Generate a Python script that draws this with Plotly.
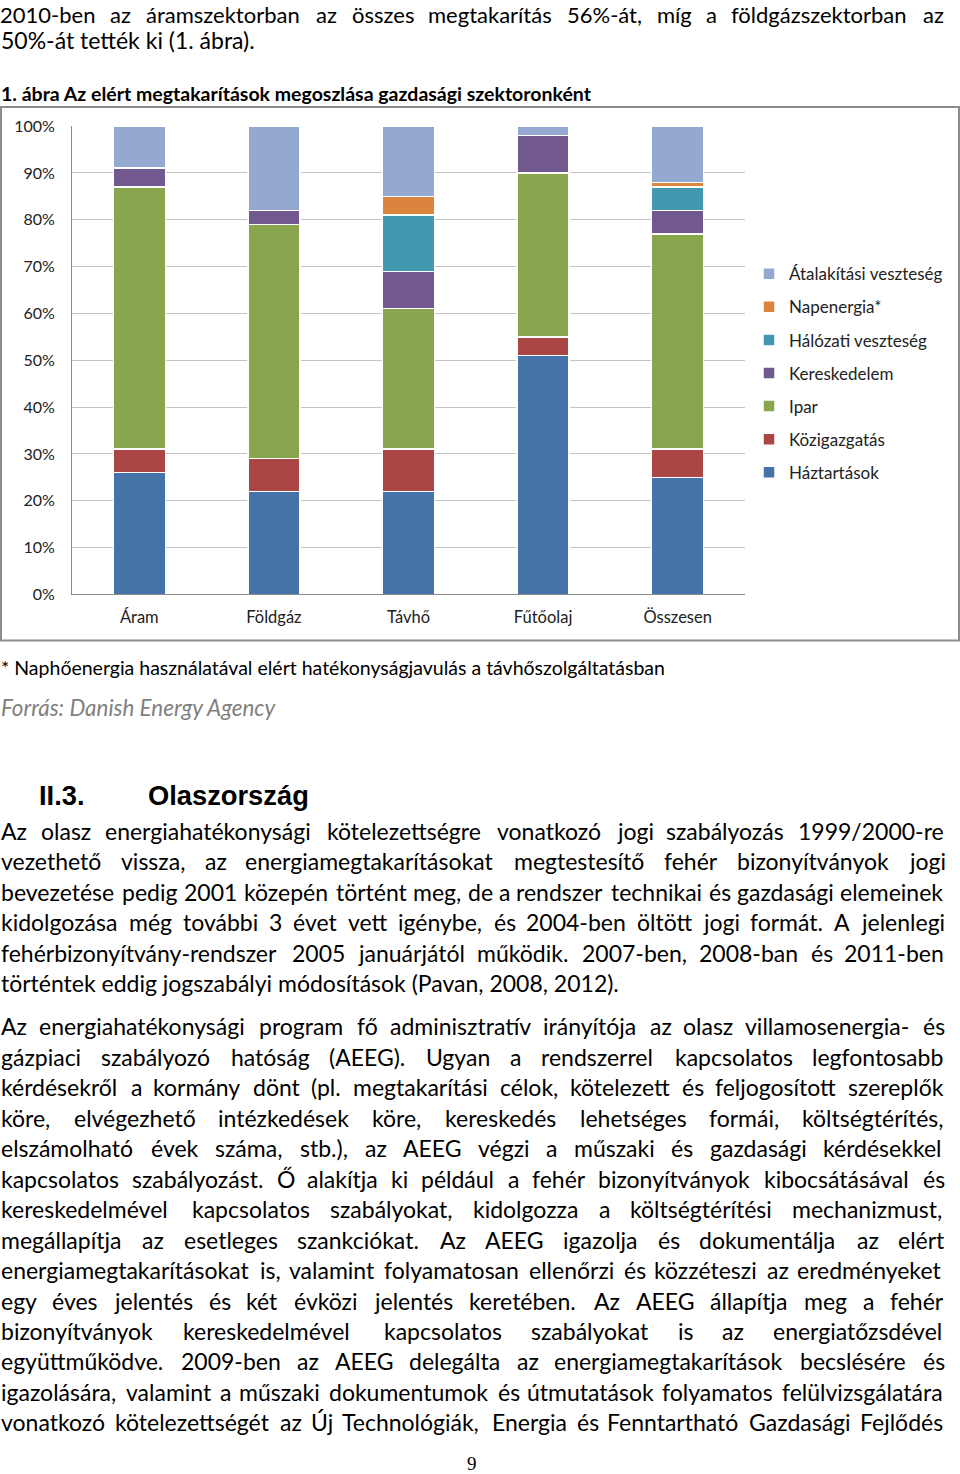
import plotly.graph_objects as go
import unicodedata

# ---------------- data ----------------
categories = ["Áram", "Földgáz", "Távhő", "Fűtőolaj", "Összesen"]
series_names = ["Háztartások", "Közigazgatás", "Ipar", "Kereskedelem",
                "Hálózati veszteség", "Napenergia*", "Átalakítási veszteség"]
haztartasok = [26, 22, 22, 51, 25]
kozigazgatas = [5, 7, 9, 4, 6]
ipar = [56, 50, 30, 35, 46]
kereskedelem = [4, 3, 8, 8, 5]
halozati = [0, 0, 12, 0, 5]
napenergia = [0, 0, 4, 0, 1]
atalakitasi = [9, 18, 15, 2, 12]
y_ticks = [0, 10, 20, 30, 40, 50, 60, 70, 80, 90, 100]
y_tick_labels = [f"{v}%" for v in y_ticks]

series_values = [haztartasok, kozigazgatas, ipar, kereskedelem,
                 halozati, napenergia, atalakitasi]
colors = ["#4572A7", "#AA4643", "#89A54E", "#71588F", "#4198AF", "#DB843D", "#93A9CF"]

W, H = 960, 1474
FONT = "Lato"
KY = 1474 / 1454.0  # vertical compensation


def px_x(x):
    return x / W


def px_y(y):
    yy = H / 2 + (y - H / 2) * KY
    return 1 - yy / H


fig = go.Figure()
n_series = len(series_names)
for i, (name, vals) in enumerate(zip(series_names, series_values)):
    fig.add_trace(go.Bar(
        x=categories, y=vals, name=name, legendgroup=name,
        legendrank=1000 - 10 * i,
        marker=dict(color=colors[i], line=dict(color="white", width=1.5)),
    ))

fig.update_layout(
    width=W, height=H,
    margin=dict(l=0, r=0, t=0, b=0),
    paper_bgcolor="white", plot_bgcolor="white",
    barmode="stack", bargap=0.614,
    font=dict(family=FONT, color="#222222"),
    xaxis=dict(domain=[72 / W, 745 / W], showline=True, linecolor="#8a8a8a",
               linewidth=1, ticks="", tickfont=dict(size=16.5, color="#222"),
               ticklabelstandoff=8, fixedrange=True),
    yaxis=dict(domain=[px_y(594), px_y(126)], range=[0, 100], tickvals=y_ticks,
               ticktext=y_tick_labels, showline=True, linecolor="#8a8a8a", linewidth=1,
               showgrid=True, gridcolor="#c4c4c4", gridwidth=1, zeroline=False,
               ticks="", tickfont=dict(size=16, color="#222"), ticklabelstandoff=13),
    legend=dict(x=px_x(749), y=px_y(256), xanchor="left", yanchor="top",
                traceorder="grouped", tracegroupgap=8,
                font=dict(size=17, color="#222"), bgcolor="rgba(0,0,0,0)",
                itemwidth=30),
    showlegend=True,
)

# chart frame
fig.add_shape(type="rect", xref="paper", yref="paper",
              x0=px_x(1), x1=px_x(959), y0=px_y(640), y1=px_y(107),
              line=dict(color="#8c8c8c", width=2), layer="below")


# ---------------- text ----------------
def cw(ch):
    if ch == " ":
        return 0.193
    base = unicodedata.normalize("NFD", ch)[0]
    if base in "ijl|!.,:;'":
        return 0.24
    if base in "ft":
        return 0.34
    if base == "r":
        return 0.37
    if base in "()":
        return 0.30
    if base == "-":
        return 0.34
    if base == "/":
        return 0.38
    if base == "*":
        return 0.40
    if base == "s":
        return 0.42
    if base == "z":
        return 0.45
    if base == "c":
        return 0.46
    if base in "xvykag":
        return 0.50
    if base == "e":
        return 0.53
    if base in "bdhnopqu":
        return 0.56
    if base == "m":
        return 0.83
    if base == "w":
        return 0.77
    if base.isdigit():
        return 0.58
    if base == "%":
        return 0.80
    if base.isupper():
        return {"M": 0.88, "W": 0.98, "I": 0.28, "J": 0.40, "E": 0.56, "F": 0.54,
                "L": 0.50, "S": 0.52, "T": 0.59, "P": 0.60, "O": 0.78, "G": 0.72,
                "A": 0.68, "U": 0.72}.get(base, 0.66)
    return 0.5


def raw_w(s):
    return sum(cw(c) for c in s)


# calibration against observed Lato rendering widths
_c1 = "történtek eddig jogszabályi módosítások (Pavan, 2008, 2012)."
_c2 = "* Naphőenergia használatával elért hatékonyságjavulás a távhőszolgáltatásban"
K = 0.5 * (565 / (raw_w(_c1) * 21) + 613 / (raw_w(_c2) * 18))


def word_w(word, size):
    return raw_w(word) * size * K


annotations = []


def add_text(text, x, y, size, color="#000", family=FONT, xanchor="left",
             bold=False, italic=False, yanchor="middle", borderpad=1):
    t = text
    if bold:
        t = "<b>" + t + "</b>"
    if italic:
        t = "<i>" + t + "</i>"
    annotations.append(dict(text=t, x=px_x(x), y=px_y(y), xref="paper", yref="paper",
                            xanchor=xanchor, yanchor=yanchor, showarrow=False,
                            borderpad=borderpad,
                            font=dict(size=size, color=color, family=family)))


BODY = 23
DY = -2  # small vertical correction for body text


def justify(line, y, size=BODY, left=0, right=944, **kw):
    words = line.split()
    widths = [word_w(w, size) for w in words]
    gap = (right - left - sum(widths)) / (len(words) - 1)
    gap = max(gap, 0.15 * size)
    x = left
    for w, wd in zip(words, widths):
        add_text(w, x - 1, y, size, **kw)
        x += wd + gap


para1 = ["2010-ben az áramszektorban az összes megtakarítás 56%-át, míg a földgázszektorban az"]
para1_last = "50%-át tették ki (1. ábra)."
para2 = [
    "Az olasz energiahatékonysági kötelezettségre vonatkozó jogi szabályozás 1999/2000-re",
    "vezethető vissza, az energiamegtakarításokat megtestesítő fehér bizonyítványok jogi",
    "bevezetése pedig 2001 közepén történt meg, de a rendszer technikai és gazdasági elemeinek",
    "kidolgozása még további 3 évet vett igénybe, és 2004-ben öltött jogi formát. A jelenlegi",
    "fehérbizonyítvány-rendszer 2005 januárjától működik. 2007-ben, 2008-ban és 2011-ben",
]
para2_last = "történtek eddig jogszabályi módosítások (Pavan, 2008, 2012)."
para3 = [
    "Az energiahatékonysági program fő adminisztratív irányítója az olasz villamosenergia- és",
    "gázpiaci szabályozó hatóság (AEEG). Ugyan a rendszerrel kapcsolatos legfontosabb",
    "kérdésekről a kormány dönt (pl. megtakarítási célok, kötelezett és feljogosított szereplők",
    "köre, elvégezhető intézkedések köre, kereskedés lehetséges formái, költségtérítés,",
    "elszámolható évek száma, stb.), az AEEG végzi a műszaki és gazdasági kérdésekkel",
    "kapcsolatos szabályozást. Ő alakítja ki például a fehér bizonyítványok kibocsátásával és",
    "kereskedelmével kapcsolatos szabályokat, kidolgozza a költségtérítési mechanizmust,",
    "megállapítja az esetleges szankciókat. Az AEEG igazolja és dokumentálja az elért",
    "energiamegtakarításokat is, valamint folyamatosan ellenőrzi és közzéteszi az eredményeket",
    "egy éves jelentés és két évközi jelentés keretében. Az AEEG állapítja meg a fehér",
    "bizonyítványok kereskedelmével kapcsolatos szabályokat is az energiatőzsdével",
    "együttműködve. 2009-ben az AEEG delegálta az energiamegtakarítások becslésére és",
    "igazolására, valamint a műszaki dokumentumok és útmutatások folyamatos felülvizsgálatára",
    "vonatkozó kötelezettségét az Új Technológiák, Energia és Fenntartható Gazdasági Fejlődés",
]

# first line anchored at the very top edge so it is not cut
justify(para1[0], 0, size=22, yanchor="top", borderpad=0)
add_text(para1_last, -1, 42 + DY, BODY)

add_text("1. ábra Az elért megtakarítások megoszlása gazdasági szektoronként", -1, 93, 19.5, bold=True)
add_text("* Naphőenergia használatával elért hatékonyságjavulás a távhőszolgáltatásban", -1, 667, 19.5)
add_text("Forrás: Danish Energy Agency", -1, 707, 22.4, color="#7f7f7f", italic=True)

add_text("II.3.", 37, 795, 27.3, family="Liberation Sans", bold=True)
add_text("Olaszország", 146, 795, 27.3, family="Liberation Sans", bold=True)

y2 = [832, 862, 893, 923, 954]
for line, y in zip(para2, y2):
    justify(line, y + DY)
add_text(para2_last, -1, 984 + DY, BODY)

y3 = [1027, 1058, 1088, 1119, 1149, 1180, 1210, 1241, 1271, 1302, 1332, 1362, 1393, 1423]
for line, y in zip(para3, y3):
    justify(line, y + DY)

add_text("9", 472, 1463, 19, family="Liberation Serif", xanchor="center")

fig.update_layout(annotations=annotations)
fig.write_html("out.html")
